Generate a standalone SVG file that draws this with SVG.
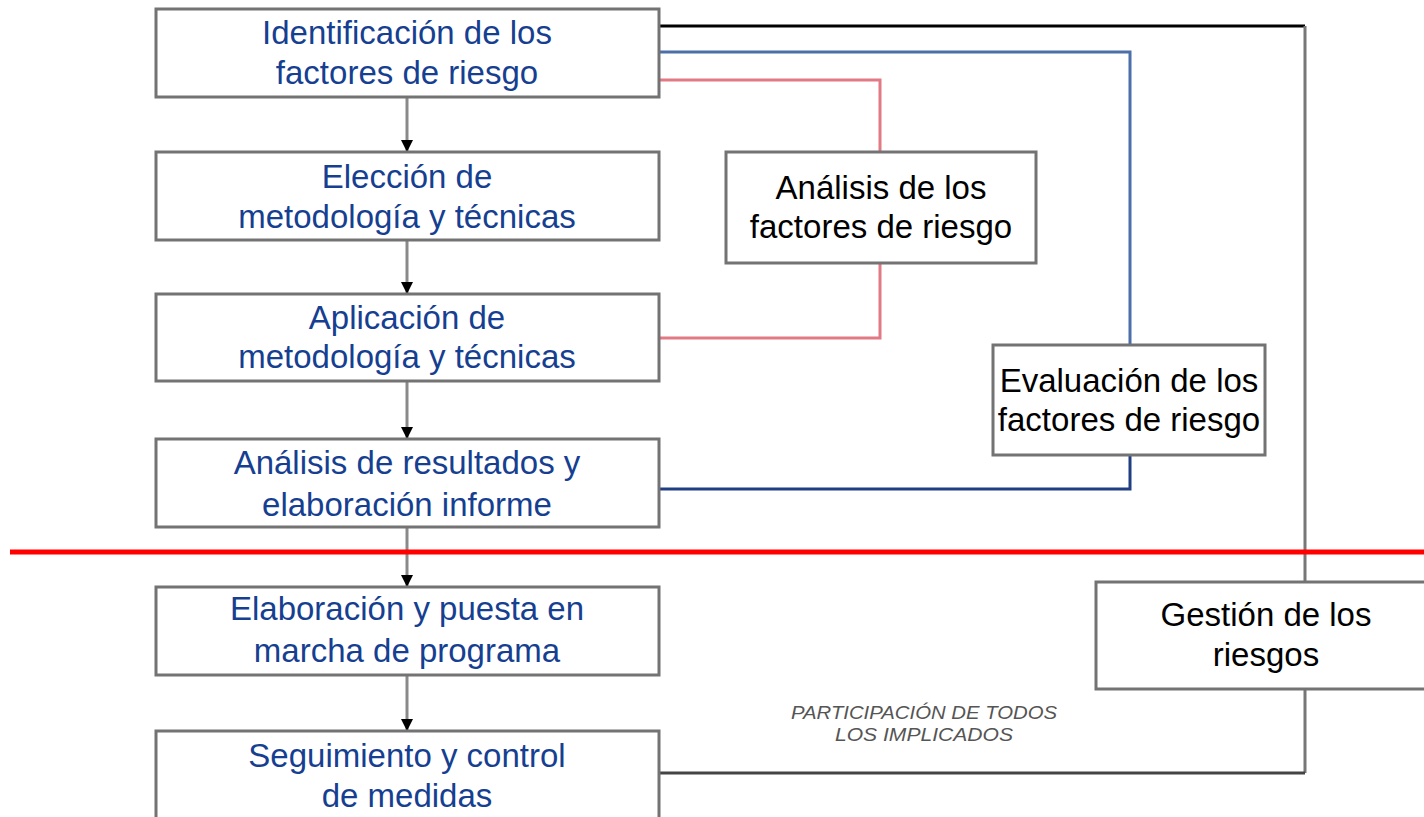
<svg xmlns="http://www.w3.org/2000/svg" width="1424" height="817" viewBox="0 0 1424 817">
<style>
.box{fill:#fff;stroke:#737373;stroke-width:3}
.lt{font-family:"Liberation Sans",Arial,sans-serif;font-size:33px;fill:#163f91;text-anchor:middle}
.rt{font-family:"Liberation Sans",Arial,sans-serif;font-size:33px;fill:#000;text-anchor:middle}
.flow{stroke:#8a8a8a;stroke-width:3;fill:none}
.note{font-family:"Liberation Sans",Arial,sans-serif;font-size:19px;font-style:italic;fill:#555;text-anchor:middle}
</style>
<defs>
<marker id="ah" markerUnits="userSpaceOnUse" markerWidth="12" markerHeight="12" viewBox="0 0 12 12" refX="12" refY="6" orient="auto">
<path d="M0,0 L12,6 L0,12 z" fill="#000"/>
</marker>
</defs>
<rect width="1424" height="817" fill="#fff"/>
<g id="connectors">
<line class="flow" x1="407" y1="97" x2="407" y2="152" marker-end="url(#ah)"/>
<line class="flow" x1="407" y1="240" x2="407" y2="294" marker-end="url(#ah)"/>
<line class="flow" x1="407" y1="381" x2="407" y2="439" marker-end="url(#ah)"/>
<line class="flow" x1="407" y1="527" x2="407" y2="587" marker-end="url(#ah)"/>
<line class="flow" x1="407" y1="675" x2="407" y2="731" marker-end="url(#ah)"/>
<polyline points="659,26 1305,26" fill="none" stroke="#000" stroke-width="3"/>
<polyline points="1305,26 1305,773" fill="none" stroke="#777" stroke-width="3"/>
<polyline points="1305,773 659,773" fill="none" stroke="#444" stroke-width="3"/>
<polyline points="659,52 1130,52 1130,345" fill="none" stroke="#4b6fa8" stroke-width="3"/>
<polyline points="1130,455 1130,489 659,489" fill="none" stroke="#1f3f82" stroke-width="3"/>
<polyline points="659,80 880,80 880,152" fill="none" stroke="#e27a86" stroke-width="3"/>
<polyline points="880,263 880,338 659,338" fill="none" stroke="#e27a86" stroke-width="3"/>
</g>
<g id="n1"><rect class="box" x="156" y="9" width="503" height="88"/>
<text class="lt" x="407" y="44">Identificación de los</text><text class="lt" x="407" y="84">factores de riesgo</text></g>
<g id="n2"><rect class="box" x="156" y="152" width="503" height="88"/>
<text class="lt" x="407" y="188">Elección de</text><text class="lt" x="407" y="228">metodología y técnicas</text></g>
<g id="n3"><rect class="box" x="156" y="294" width="503" height="87"/>
<text class="lt" x="407" y="329">Aplicación de</text><text class="lt" x="407" y="368">metodología y técnicas</text></g>
<g id="n4"><rect class="box" x="156" y="439" width="503" height="88"/>
<text class="lt" x="407" y="474">Análisis de resultados y</text><text class="lt" x="407" y="516">elaboración informe</text></g>
<g id="n5"><rect class="box" x="156" y="587" width="503" height="88"/>
<text class="lt" x="407" y="620">Elaboración y puesta en</text><text class="lt" x="407" y="662">marcha de programa</text></g>
<g id="n6"><rect class="box" x="156" y="731" width="503" height="100"/>
<text class="lt" x="407" y="767">Seguimiento y control</text><text class="lt" x="407" y="807">de medidas</text></g>
<g id="n7"><rect class="box" x="726" y="152" width="310" height="111"/>
<text class="rt" x="881" y="199">Análisis de los</text><text class="rt" x="881" y="238">factores de riesgo</text></g>
<g id="n8"><rect class="box" x="993" y="345" width="272" height="110"/>
<text class="rt" x="1129" y="392">Evaluación de los</text><text class="rt" x="1129" y="431">factores de riesgo</text></g>
<g id="n9"><rect class="box" x="1096" y="582" width="340" height="107"/>
<text class="rt" x="1266" y="626">Gestión de los</text><text class="rt" x="1266" y="666">riesgos</text></g>
<g id="note">
<text class="note" x="924" y="719" textLength="266" lengthAdjust="spacingAndGlyphs">PARTICIPACIÓN DE TODOS</text>
<text class="note" x="924" y="741" textLength="178" lengthAdjust="spacingAndGlyphs">LOS IMPLICADOS</text>
</g>
<line id="divider" x1="10" y1="552" x2="1424" y2="552" stroke="#ff0000" stroke-width="5"/>
</svg>
